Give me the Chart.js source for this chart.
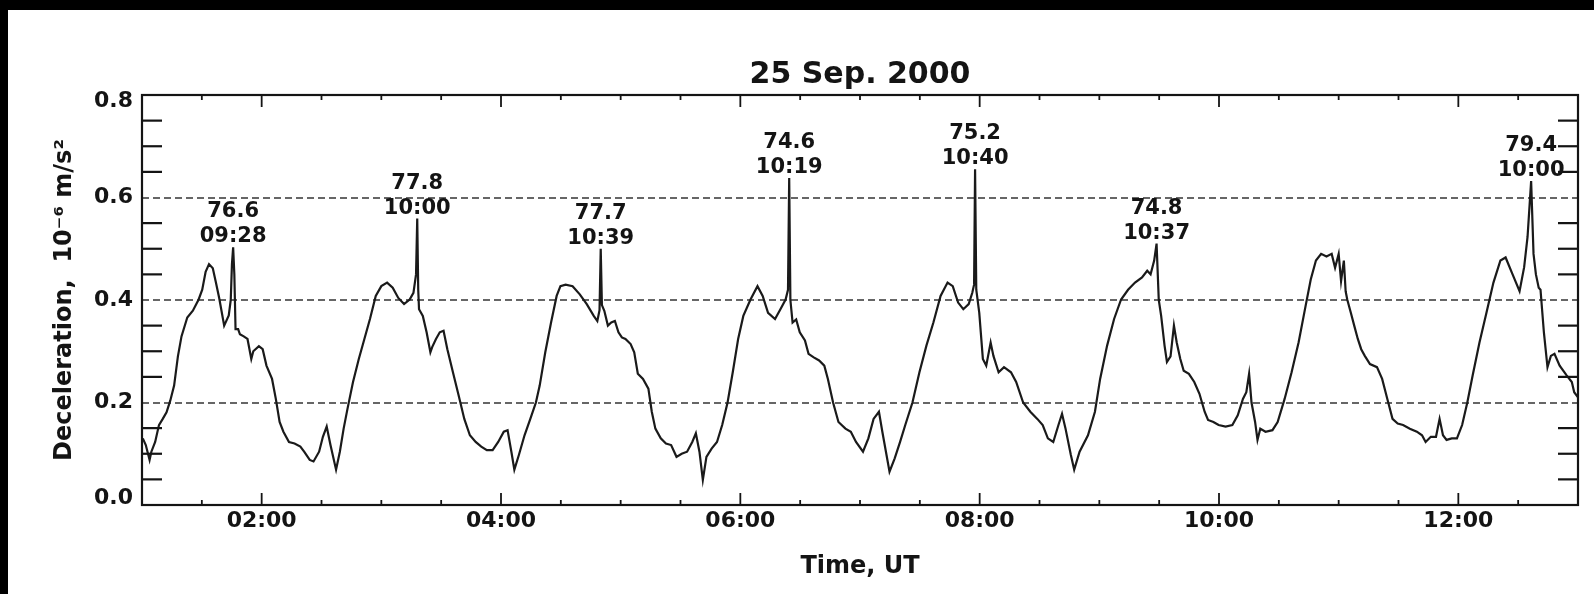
<!DOCTYPE html>
<html>
<head>
<meta charset="utf-8">
<script src="https://cdn.jsdelivr.net/npm/chart.js@4.4.1/dist/chart.umd.min.js"></script>
<style>
    html, body { margin: 0; padding: 0; background: #000; overflow: hidden; }
    #wrap { position: absolute; left: 8px; top: 10px; width: 1586px; height: 584px; background: #fff; }
    canvas { display: block; background: #fff; }
</style>
</head>
<body>
<div id="wrap"><canvas id="decelChart" width="1586" height="584"></canvas></div>
<script>
// Tempo em minutos desde 00:00 UT
const timeUT = [
    60.4, 61.9, 63.8, 64.7, 66.6, 68.5, 70.4, 72.3, 74.2, 76.1, 78.0, 79.8, 82.7, 85.5, 88.4, 90.2,
    91.9, 93.6, 95.5, 96.9, 98.7, 101.2, 103.5, 104.5, 105.1, 105.7, 106.3, 106.9, 108.2, 109.1, 111.0,
    112.9, 114.8, 115.8, 118.6, 120.5, 122.4, 125.2, 127.1, 129.0, 130.9, 133.7, 136.5, 139.4, 141.3,
    144.1, 146.0, 148.8, 150.7, 152.6, 154.5, 157.3, 159.2, 161.1, 163.0, 165.8, 168.7, 171.5, 174.3,
    177.2, 180.0, 182.9, 185.7, 188.5, 191.4, 194.2, 196.1, 197.4, 198.0, 198.5, 198.9, 200.8, 202.7,
    204.6, 205.5, 207.4, 209.3, 211.2, 213.1, 215.9, 218.8, 221.6, 224.4, 227.3, 230.1, 232.9, 235.8,
    238.6, 241.4, 243.3, 245.2, 246.7, 249.0, 251.8, 254.7, 257.5, 259.4, 262.2, 265.1, 267.9, 269.8,
    272.4, 275.9, 279.5, 283.0, 286.5, 288.3, 289.4, 290.0, 290.6, 291.8, 293.6, 295.3, 297.1, 298.9,
    300.6, 302.4, 305.0, 306.8, 308.6, 311.2, 313.9, 315.6, 317.4, 320.1, 322.7, 325.3, 328.0, 330.6,
    333.3, 335.9, 337.7, 339.5, 341.2, 343.0, 345.6, 348.3, 350.9, 353.6, 356.2, 358.9, 361.5, 365.1,
    368.6, 371.2, 373.9, 377.4, 380.1, 382.7, 383.9, 384.5, 385.1, 386.2, 388.0, 389.8, 392.4, 394.2,
    396.8, 399.5, 402.1, 403.9, 406.5, 409.2, 412.7, 415.4, 418.0, 421.5, 424.2, 426.8, 429.5, 431.2,
    433.0, 434.8, 437.4, 440.1, 442.7, 446.3, 449.8, 453.3, 456.8, 460.4, 463.9, 466.5, 469.2, 471.8,
    474.5, 476.3, 477.2, 477.7, 478.3, 479.8, 481.6, 483.3, 485.5, 486.9, 489.5, 492.2, 495.7, 498.3,
    501.8, 505.4, 508.9, 511.6, 514.2, 516.9, 519.5, 521.3, 523.0, 525.7, 527.4, 530.1, 534.3, 537.8,
    540.4, 543.9, 547.4, 550.9, 554.4, 557.9, 561.4, 564.0, 565.7, 567.5, 568.7, 569.8, 571.0, 572.7,
    573.9, 575.7, 577.4, 578.8, 580.6, 582.3, 584.9, 587.6, 590.2, 592.8, 594.5, 597.2, 599.8, 603.3,
    606.7, 609.4, 612.0, 613.7, 615.1, 616.3, 618.1, 619.3, 620.7, 623.3, 626.8, 629.4, 632.9, 636.4,
    639.9, 643.4, 646.0, 648.6, 651.2, 653.9, 656.5, 658.2, 660.0, 661.2, 662.6, 663.5, 664.3, 666.1,
    667.8, 669.6, 671.3, 673.1, 675.7, 679.2, 681.8, 684.4, 687.0, 689.6, 692.3, 695.7, 699.2, 701.8,
    703.6, 706.2, 708.8, 710.6, 712.3, 714.1, 716.7, 719.3, 721.9, 724.5, 727.2, 730.6, 734.1, 737.6,
    741.1, 743.7, 747.2, 750.7, 753.0, 754.7, 756.5, 757.7, 758.9, 760.3, 761.2, 762.9, 764.7, 766.4,
    768.2, 770.8, 774.3, 776.9, 778.1, 780.0
];

// Desaceleração (10^-6 m/s^2)
const decel = [
    0.130, 0.117, 0.088, 0.104, 0.123, 0.156, 0.168, 0.181, 0.204, 0.233, 0.290, 0.329, 0.366, 0.379, 0.401, 0.420,
    0.455, 0.470, 0.462, 0.437, 0.404, 0.350, 0.370, 0.400, 0.470, 0.503, 0.450, 0.343, 0.343, 0.333, 0.329,
    0.324, 0.285, 0.300, 0.310, 0.304, 0.272, 0.246, 0.207, 0.162, 0.143, 0.123, 0.120, 0.114, 0.104,
    0.088, 0.085, 0.104, 0.133, 0.153, 0.117, 0.069, 0.104, 0.149, 0.187, 0.240, 0.285, 0.324, 0.363,
    0.408, 0.427, 0.434, 0.424, 0.404, 0.392, 0.401, 0.414, 0.450, 0.559, 0.420, 0.382, 0.369, 0.337,
    0.298, 0.308, 0.324, 0.337, 0.340, 0.304, 0.259, 0.213, 0.168, 0.136, 0.123, 0.114, 0.107, 0.107,
    0.123, 0.143, 0.146, 0.104, 0.069, 0.098, 0.136, 0.168, 0.200, 0.233, 0.298, 0.356, 0.408, 0.427,
    0.430, 0.427, 0.411, 0.392, 0.369, 0.359, 0.380, 0.500, 0.390, 0.379, 0.350, 0.356, 0.359, 0.337,
    0.327, 0.324, 0.314, 0.298, 0.256, 0.246, 0.227, 0.182, 0.149, 0.130, 0.120, 0.117, 0.094, 0.100,
    0.104, 0.123, 0.140, 0.104, 0.049, 0.094, 0.110, 0.123, 0.156, 0.200, 0.259, 0.324, 0.369, 0.401,
    0.427, 0.408, 0.375, 0.363, 0.382, 0.401, 0.420, 0.638, 0.400, 0.356, 0.362, 0.337, 0.321, 0.295,
    0.288, 0.282, 0.272, 0.246, 0.200, 0.162, 0.149, 0.143, 0.123, 0.104, 0.130, 0.168, 0.182, 0.143,
    0.104, 0.065, 0.091, 0.123, 0.156, 0.200, 0.259, 0.311, 0.356, 0.408, 0.434, 0.427, 0.395, 0.382,
    0.392, 0.414, 0.430, 0.655, 0.420, 0.375, 0.285, 0.272, 0.317, 0.291, 0.259, 0.269, 0.259, 0.240,
    0.200, 0.182, 0.168, 0.156, 0.130, 0.123, 0.156, 0.178, 0.150, 0.098, 0.069, 0.104, 0.136, 0.182,
    0.246, 0.311, 0.363, 0.401, 0.420, 0.434, 0.444, 0.457, 0.450, 0.477, 0.510, 0.400, 0.369, 0.311,
    0.279, 0.290, 0.350, 0.317, 0.285, 0.262, 0.256, 0.240, 0.217, 0.182, 0.166, 0.162, 0.156, 0.153,
    0.156, 0.175, 0.207, 0.220, 0.256, 0.200, 0.162, 0.127, 0.149, 0.143, 0.146, 0.162, 0.207, 0.259,
    0.317, 0.388, 0.440, 0.477, 0.490, 0.485, 0.490, 0.463, 0.490, 0.437, 0.477, 0.417, 0.401, 0.375,
    0.350, 0.324, 0.304, 0.291, 0.275, 0.269, 0.246, 0.207, 0.168, 0.159, 0.156, 0.149, 0.143, 0.136,
    0.123, 0.133, 0.133, 0.168, 0.136, 0.127, 0.130, 0.130, 0.156, 0.200, 0.253, 0.317, 0.375, 0.434,
    0.477, 0.483, 0.450, 0.417, 0.464, 0.523, 0.632, 0.490, 0.450, 0.424, 0.420, 0.337, 0.269, 0.291,
    0.295, 0.272, 0.253, 0.240, 0.220, 0.210
];

// Picos marcados: instante (min UT), latitude e hora local
const peakTimes = [105.7, 198.0, 290.0, 384.5, 477.7, 568.7, 756.5];
const peakLat = ['76.6', '77.8', '77.7', '74.6', '75.2', '74.8', '79.4'];
const peakLT = ['09:28', '10:00', '10:39', '10:19', '10:40', '10:37', '10:00'];

// Eixos
const xMajorTicks = [120, 240, 360, 480, 600, 720];
const xTickLabels = ['02:00', '04:00', '06:00', '08:00', '10:00', '12:00'];
const xMinorTicks = [90, 150, 180, 210, 270, 300, 330, 390, 420, 450, 510, 540, 570, 630, 660, 690, 750];
const yTicks = [0.0, 0.2, 0.4, 0.6, 0.8];
const yTickLabels = ['0.0', '0.2', '0.4', '0.6', '0.8'];
const yMinorTicks = [0.05, 0.1, 0.15, 0.25, 0.3, 0.35, 0.45, 0.5, 0.55, 0.65, 0.7, 0.75];
const yGridLines = [0.2, 0.4, 0.6];

const chartTitle = '25 Sep. 2000';
const FONT = "'DejaVu Sans', sans-serif";
const INK = '#141414';
const Y_MIN = 0, Y_MAX = 0.8;
const EDGE_LABEL_INSET = 0.013; // puxa os rótulos 0.0 e 0.8 para dentro da moldura

Chart.defaults.font.family = FONT;
Chart.defaults.color = INK;

function strokeLine(ctx, x1, y1, x2, y2) {
    ctx.beginPath();
    ctx.moveTo(x1, y1);
    ctx.lineTo(x2, y2);
    ctx.stroke();
}

// Moldura, marcas internas, grade tracejada, título e rótulos dos picos
const decoPlugin = {
    id: 'deco',
    beforeDatasetsDraw(chart) {
        const { ctx, chartArea: a, scales: { y } } = chart;
        ctx.save();
        ctx.strokeStyle = '#666';
        ctx.lineWidth = 2.2;
        ctx.setLineDash([7, 4]);
        yGridLines.forEach(v => {
            const py = Math.round(y.getPixelForValue(v));
            strokeLine(ctx, a.left, py, a.right, py);
        });
        ctx.restore();
    },
    afterDatasetsDraw(chart) {
        const { ctx, chartArea: a, scales: { x, y } } = chart;
        ctx.save();
        ctx.strokeStyle = INK;
        ctx.lineWidth = 1.8;

        xMajorTicks.forEach(v => {
            const px = x.getPixelForValue(v);
            strokeLine(ctx, px, a.bottom, px, a.bottom - 12);
            strokeLine(ctx, px, a.top, px, a.top + 12);
        });
        xMinorTicks.forEach(v => {
            const px = x.getPixelForValue(v);
            strokeLine(ctx, px, a.bottom, px, a.bottom - 5);
            strokeLine(ctx, px, a.top, px, a.top + 5);
        });
        ctx.lineWidth = 2.2;
        yMinorTicks.forEach(v => {
            const py = y.getPixelForValue(v);
            strokeLine(ctx, a.left, py, a.left + 20, py);
            strokeLine(ctx, a.right, py, a.right - 20, py);
        });

        ctx.strokeRect(a.left, a.top, a.right - a.left, a.bottom - a.top);

        // rótulos sobre os picos
        ctx.fillStyle = INK;
        ctx.font = 'bold 21px ' + FONT;
        ctx.textAlign = 'center';
        ctx.textBaseline = 'alphabetic';
        peakTimes.forEach((t, i) => {
            const idx = timeUT.indexOf(t);
            const px = x.getPixelForValue(t);
            const py = y.getPixelForValue(decel[idx]);
            ctx.fillText(peakLT[i], px, py - 5);
            ctx.fillText(peakLat[i], px, py - 30);
        });

        ctx.font = 'bold 30px ' + FONT;
        ctx.fillText(chartTitle, (a.left + a.right) / 2, a.top - 12);
        ctx.restore();
    }
};

const ctx = document.getElementById('decelChart');
const points = timeUT.map((t, i) => ({ x: t, y: decel[i] }));

new Chart(ctx, {
    type: 'line',
    data: {
        datasets: [{
            data: points,
            borderColor: '#1a1a1a',
            borderWidth: 2.2,
            pointRadius: 0,
            tension: 0,
            fill: false
        }]
    },
    options: {
        responsive: false,
        animation: false,
        layout: { padding: { left: 0, right: 16, top: 85, bottom: 0 } },
        plugins: {
            legend: { display: false },
            tooltip: { enabled: false }
        },
        scales: {
            x: {
                type: 'linear',
                min: 60,
                max: 780,
                grid: { display: false, drawTicks: false },
                border: { display: false },
                afterBuildTicks: axis => { axis.ticks = xMajorTicks.map(v => ({ value: v })); },
                afterFit: axis => { axis.height = 89; },
                ticks: {
                    autoSkip: false,
                    maxRotation: 0,
                    padding: 3,
                    color: INK,
                    font: { size: 22, weight: 'bold' },
                    callback: (value, index) => xTickLabels[index]
                },
                title: {
                    display: true,
                    text: 'Time, UT',
                    color: INK,
                    font: { size: 24, weight: 'bold' },
                    padding: { top: 0, bottom: 13 }
                }
            },
            y: {
                min: Y_MIN,
                max: Y_MAX,
                grid: { display: false, drawTicks: false },
                border: { display: false },
                afterBuildTicks: axis => {
                    axis.ticks = yTicks.map(v => ({
                        value: v === Y_MIN ? v + EDGE_LABEL_INSET : v === Y_MAX ? v - EDGE_LABEL_INSET : v
                    }));
                },
                afterFit: axis => { axis.width = 134; },
                ticks: {
                    padding: 9,
                    color: INK,
                    font: { size: 22, weight: 'bold' },
                    callback: (value, index) => yTickLabels[index]
                },
                title: {
                    display: true,
                    text: 'Deceleration,  10⁻⁶ m/s²',
                    color: INK,
                    font: { size: 24, weight: 'bold' },
                    padding: { top: 42, bottom: 0 }
                }
            }
        }
    },
    plugins: [decoPlugin]
});
</script>
</body>
</html>
